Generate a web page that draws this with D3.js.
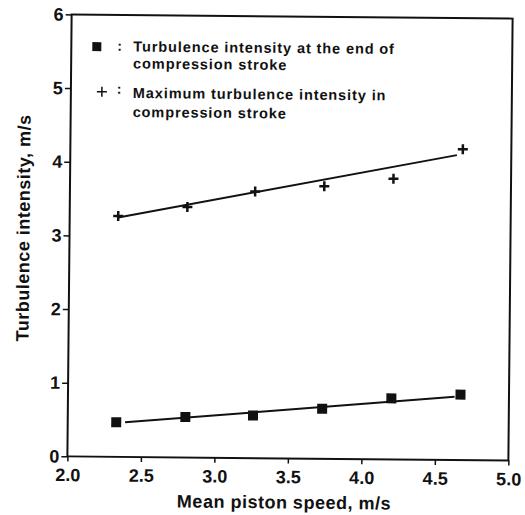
<!DOCTYPE html>
<html>
<head>
<meta charset="utf-8">
<script src="https://cdn.jsdelivr.net/npm/d3@7"></script>
<style>
body { margin: 0; background: #fff; }
text { font-family: "Liberation Sans", Arial, sans-serif; font-weight: bold; fill: #111; }
</style>
</head>
<body>
<div id="chart"></div>
<script>
// values
const speed = [2.33, 2.80, 3.26, 3.73, 4.20, 4.67];
const maxIntensity = [3.27, 3.40, 3.62, 3.70, 3.81, 4.22];
const endIntensity = [0.47, 0.55, 0.58, 0.68, 0.83, 0.89];
// fitted lines (end points)
const maxFitX = [2.33, 4.63];
const maxFitY = [3.25, 4.14];
const endFitX = [2.39, 4.63];
const endFitY = [0.47, 0.86];
const xTicks = [2.0, 2.5, 3.0, 3.5, 4.0, 4.5, 5.0];
const yTicks = [0, 1, 2, 3, 4, 5, 6];
const legendLines = [
    ["Turbulence intensity at the end of", "compression stroke"],
    ["Maximum turbulence intensity in", "compression stroke"]
];

const margin = { top: 16.5, left: 69.5 };
const width = 441;
const height = 442;

// the scan is turned slightly clockwise
const svg = d3.select("#chart")
    .append("svg")
    .attr("width", 525)
    .attr("height", 515)
    .append("g")
    .attr("transform", `rotate(0.55, 290, 237.5) translate(${margin.left}, ${margin.top})`);

const xScale = d3.scaleLinear().domain([2, 5]).range([0, width]);
const yScale = d3.scaleLinear().domain([0, 6]).range([height, 0]);

const xAxis = d3.axisBottom(xScale).tickValues(xTicks).tickSize(5).tickPadding(7).tickFormat(d3.format(".1f"));
const yAxis = d3.axisLeft(yScale).tickValues(yTicks).tickSize(6).tickPadding(2).tickFormat(d3.format("d"));

const gx = svg.append("g")
    .attr("transform", `translate(0, ${height})`)
    .call(xAxis);
const gy = svg.append("g").call(yAxis);

[gx, gy].forEach(g => {
    g.select(".domain").remove();
    g.selectAll("line").attr("stroke", "#111").attr("stroke-width", 1.5);
    g.selectAll("text")
        .style("font-size", "18px")
        .style("font-family", "'Liberation Sans', Arial, sans-serif")
        .style("font-weight", "bold")
        .attr("fill", "#111");
});

// frame
svg.append("rect")
    .attr("x", 0)
    .attr("y", 0)
    .attr("width", width)
    .attr("height", height)
    .attr("fill", "none")
    .attr("stroke", "#111")
    .attr("stroke-width", 2);

const line = d3.line().x(d => xScale(d[0])).y(d => yScale(d[1]));

svg.append("path")
    .datum(d3.zip(maxFitX, maxFitY))
    .attr("d", line)
    .attr("fill", "none")
    .attr("stroke", "#111")
    .attr("stroke-width", 2);

svg.append("path")
    .datum(d3.zip(endFitX, endFitY))
    .attr("d", line)
    .attr("fill", "none")
    .attr("stroke", "#111")
    .attr("stroke-width", 2);

svg.selectAll(".cross")
    .data(d3.zip(speed, maxIntensity))
    .enter().append("path")
    .attr("class", "cross")
    .attr("transform", d => `translate(${xScale(d[0])}, ${yScale(d[1])})`)
    .attr("d", "M-5,0H5M0,-5V5")
    .attr("stroke", "#111")
    .attr("stroke-width", 2.5);

svg.selectAll(".square")
    .data(d3.zip(speed, endIntensity))
    .enter().append("rect")
    .attr("class", "square")
    .attr("x", d => xScale(d[0]) - 5)
    .attr("y", d => yScale(d[1]) - 5)
    .attr("width", 10)
    .attr("height", 10)
    .attr("fill", "#111");

// legend
const legend = svg.append("g");
legend.append("rect")
    .attr("x", 21).attr("y", 27.5)
    .attr("width", 9).attr("height", 9)
    .attr("fill", "#111");
legend.append("path")
    .attr("d", "M26,77H36M31,72V82")
    .attr("stroke", "#111")
    .attr("stroke-width", 1.5);
legend.selectAll(".colon")
    .data([36, 79])
    .enter().append("text")
    .attr("x", 46)
    .attr("y", d => d)
    .style("font-size", "14px")
    .text(":");
const baselines = [[36.5, 53.5], [83, 102]];
legendLines.forEach((lines, i) => {
    lines.forEach((t, j) => {
        legend.append("text")
            .attr("x", 62)
            .attr("y", baselines[i][j])
            .style("font-size", "14.5px")
            .style("letter-spacing", "0.9px")
            .text(t);
    });
});

// axis titles
svg.append("text")
    .attr("x", 217)
    .attr("y", height + 50)
    .attr("text-anchor", "middle")
    .style("font-size", "18px")
    .style("letter-spacing", "0.5px")
    .text("Mean piston speed, m/s");

svg.append("text")
    .attr("transform", `translate(-40, 214) rotate(-90)`)
    .attr("text-anchor", "middle")
    .style("font-size", "18px")
    .style("letter-spacing", "0.5px")
    .text("Turbulence intensity, m/s");
</script>
</body>
</html>
